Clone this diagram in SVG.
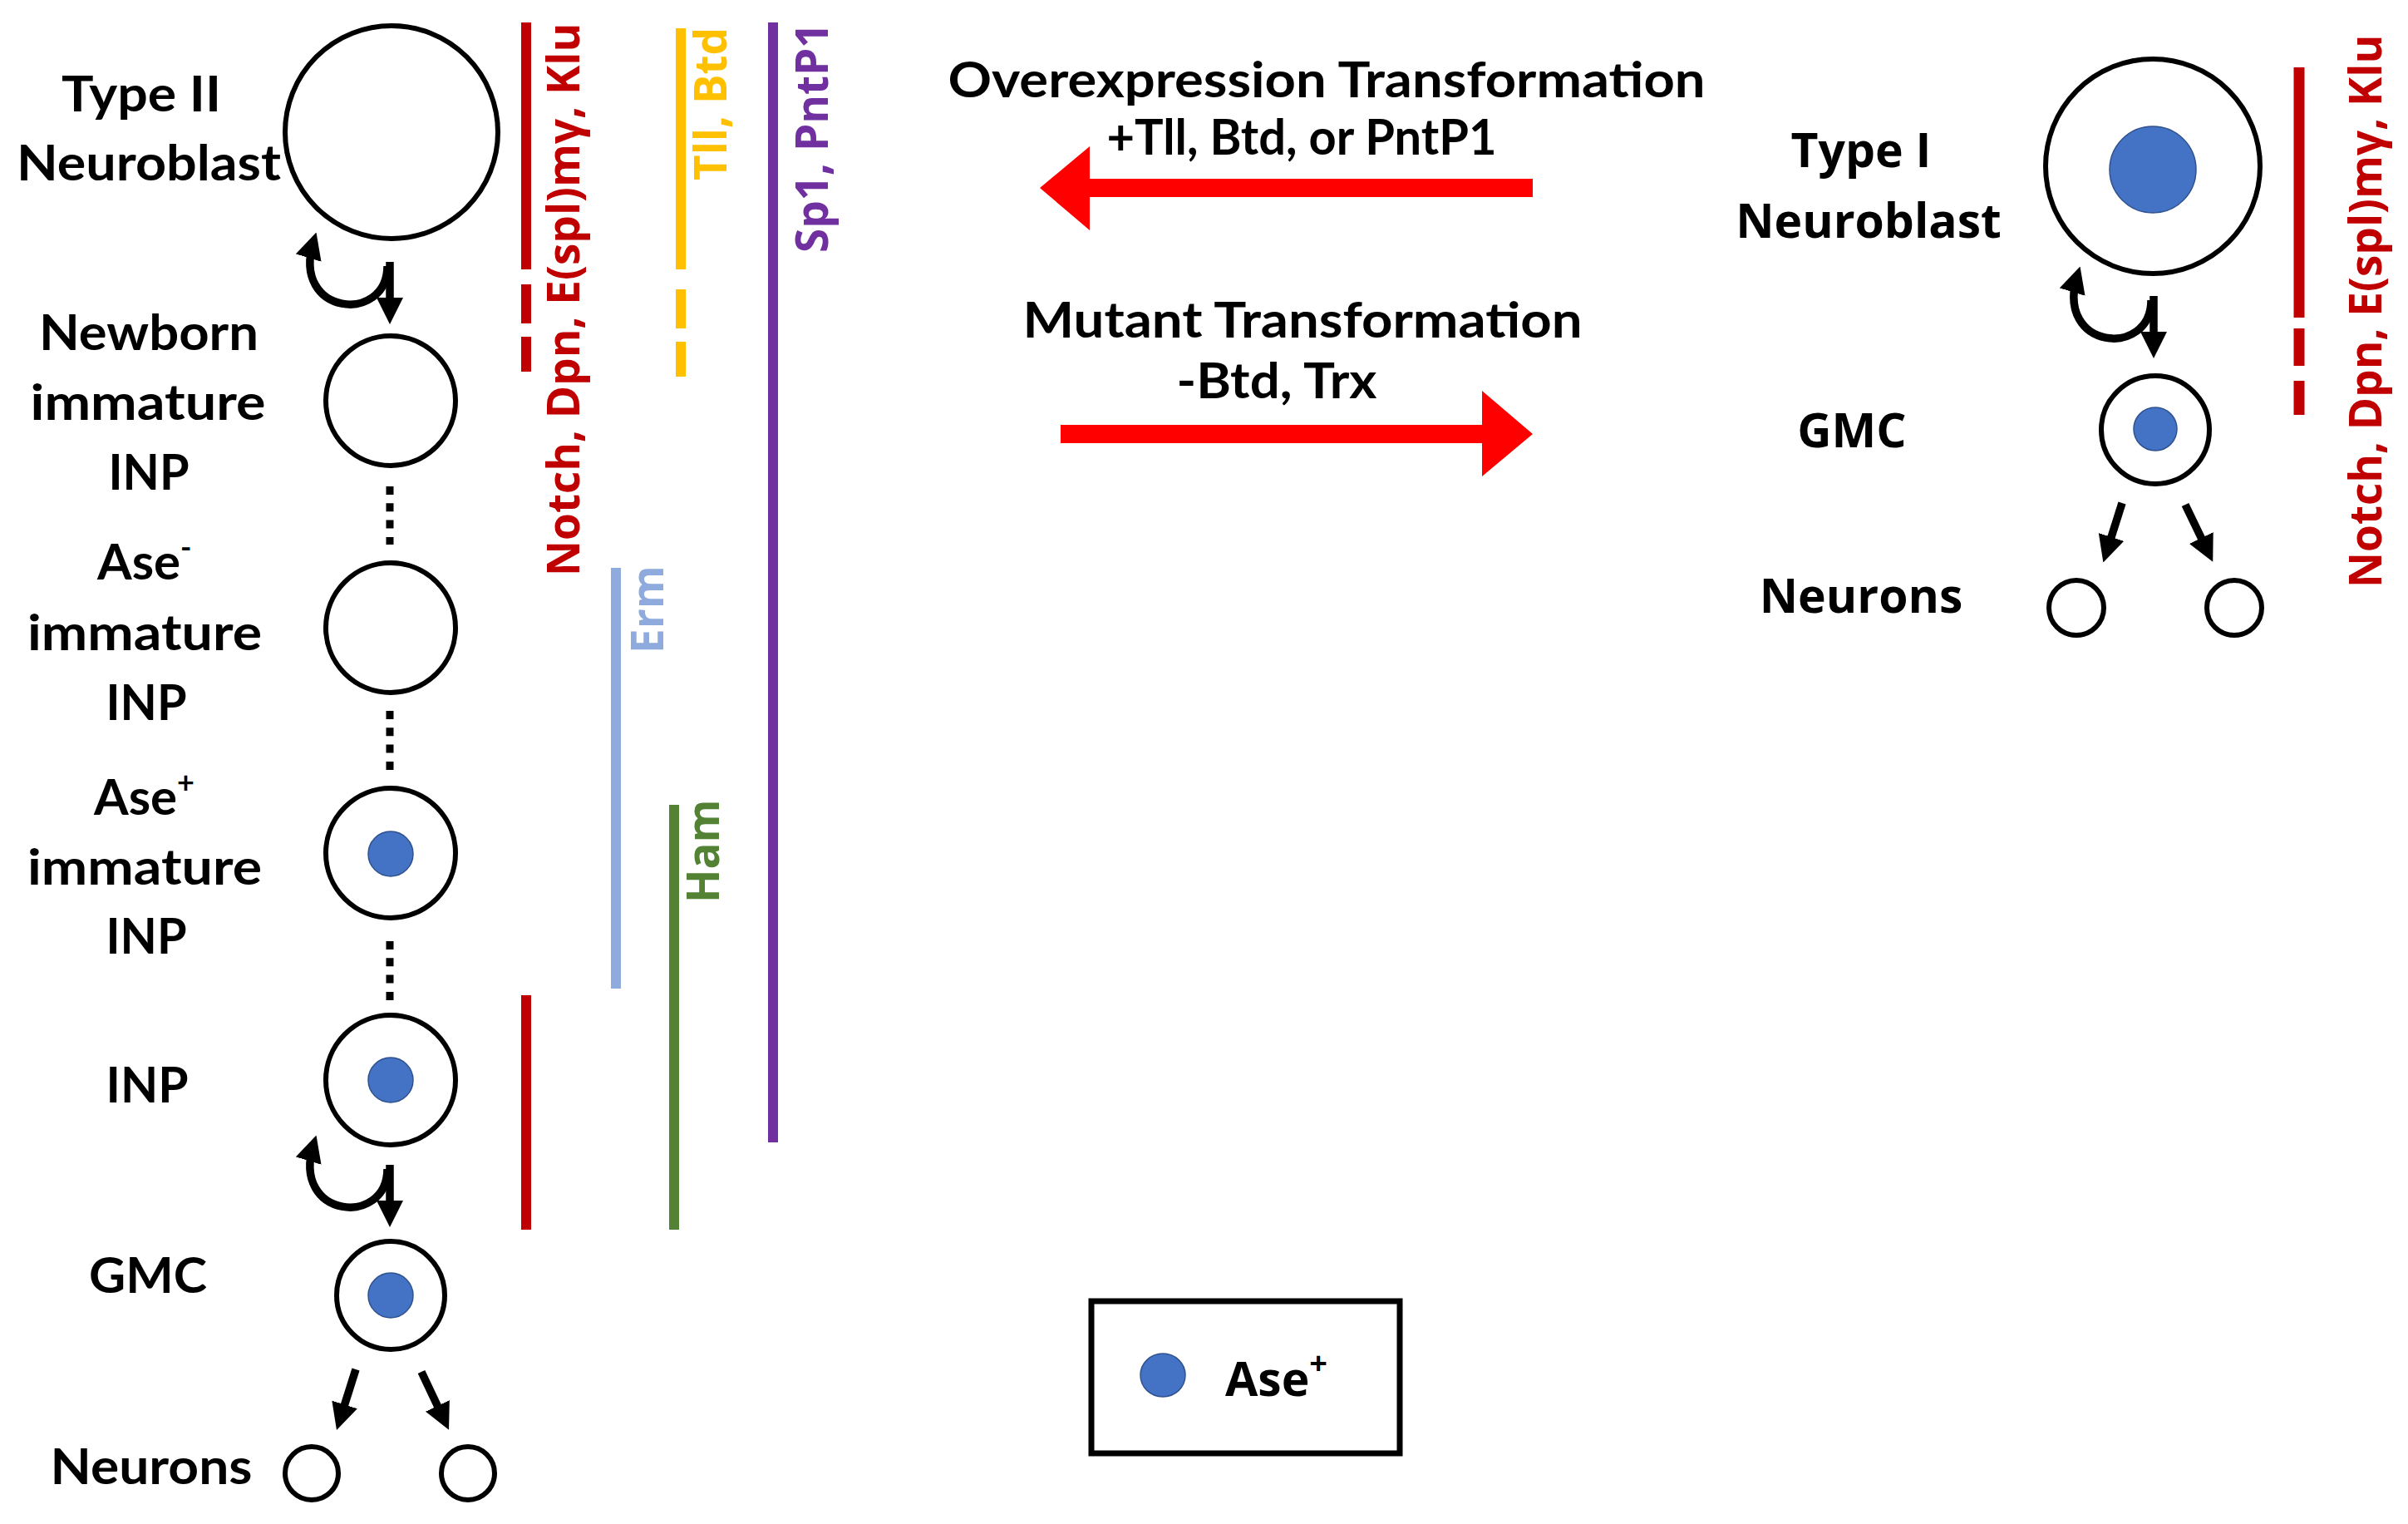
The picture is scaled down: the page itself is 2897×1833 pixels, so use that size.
<svg xmlns="http://www.w3.org/2000/svg" width="2897" height="1833" viewBox="0 0 2897 1833">
<defs>
<style>
.cell{fill:#fff;stroke:#000;stroke-width:6}
.nuc{fill:#4472C4;stroke:#2F528F;stroke-width:1.5}
.lab{font-family:Lato,"Liberation Sans",sans-serif;font-weight:700;font-size:60px;fill:#000}
.labR{font-family:"Open Sans","Liberation Sans",sans-serif;font-weight:700;font-size:57px;fill:#000}
.rot{font-family:"Open Sans","Liberation Sans",sans-serif;font-weight:700;font-size:53px}
.arr{fill:none;stroke:#000;stroke-width:9.5;marker-end:url(#ah)}
.dot{fill:none;stroke:#000;stroke-width:9;stroke-dasharray:10 10.3}
.bar{stroke-width:12;fill:none}
</style>
<marker id="ah" markerUnits="userSpaceOnUse" markerWidth="32" markerHeight="32" viewBox="0 0 32 32" refX="20" refY="16" orient="auto">
<path d="M0,0 L32,16 L0,32 z" fill="#000"/>
</marker>
</defs>
<rect width="2897" height="1833" fill="#fff"/>

<g id="connectors">
<path class="dot" d="M469 585 V655"/>
<path class="dot" d="M469 855 V928"/>
<path class="dot" d="M469 1132 V1205"/>
<path class="arr" d="M469 315 V378"/>
<path class="arr" d="M466 320 C466 390 350 380 377 291"/>
<path class="arr" d="M469 1401 V1464"/>
<path class="arr" d="M466 1406 C466 1476 350 1466 377 1377"/>
<path class="arr" d="M428 1647 L408.6 1708.5"/>
<path class="arr" d="M507 1650 L534.9 1709"/>
<path class="arr" d="M2591 356 V419"/>
<path class="arr" d="M2588 361 C2588 431 2472 421 2499 332"/>
<path class="arr" d="M2553 605 L2534 665"/>
<path class="arr" d="M2629 607 L2657 665"/>
<polygon id="arrow-overexpression" fill="#FF0000" points="1844,215 1311,215 1311,176 1251,226 1311,277 1311,237 1844,237"/>
<polygon id="arrow-mutant" fill="#FF0000" points="1276,511 1783,511 1783,470 1844,522 1783,573 1783,533 1276,533"/>
</g>

<g id="type2-neuroblast">
<circle class="cell" cx="471" cy="159" r="128"/>
<text class="lab" x="170" y="134" text-anchor="middle" textLength="192" lengthAdjust="spacingAndGlyphs">Type II</text>
<text class="lab" x="179" y="217" text-anchor="middle" textLength="318" lengthAdjust="spacingAndGlyphs">Neuroblast</text>
</g>
<g id="newborn-inp">
<circle class="cell" cx="470" cy="482" r="78"/>
<text class="lab" x="179" y="421" text-anchor="middle" textLength="264" lengthAdjust="spacingAndGlyphs">Newborn</text>
<text class="lab" x="178" y="505" text-anchor="middle" textLength="283" lengthAdjust="spacingAndGlyphs">immature</text>
<text class="lab" x="179" y="589" text-anchor="middle" textLength="97" lengthAdjust="spacingAndGlyphs">INP</text>
</g>
<g id="ase-minus-inp">
<circle class="cell" cx="470" cy="755" r="78"/>
<text class="lab" x="117" y="697">Ase<tspan font-size="36" dy="-26">-</tspan></text>
<text class="lab" x="174" y="782" text-anchor="middle" textLength="282" lengthAdjust="spacingAndGlyphs">immature</text>
<text class="lab" x="176" y="866" text-anchor="middle" textLength="97" lengthAdjust="spacingAndGlyphs">INP</text>
</g>
<g id="ase-plus-inp">
<circle class="cell" cx="470" cy="1026" r="78"/>
<ellipse class="nuc" cx="470" cy="1027" rx="27" ry="27"/>
<text class="lab" x="113" y="980">Ase<tspan font-size="36" dy="-26">+</tspan></text>
<text class="lab" x="174" y="1064" text-anchor="middle" textLength="282" lengthAdjust="spacingAndGlyphs">immature</text>
<text class="lab" x="176" y="1147" text-anchor="middle" textLength="97" lengthAdjust="spacingAndGlyphs">INP</text>
</g>
<g id="inp">
<circle class="cell" cx="470" cy="1299" r="78"/>
<circle class="nuc" cx="470" cy="1299" r="27"/>
<text class="lab" x="177" y="1326" text-anchor="middle" textLength="99" lengthAdjust="spacingAndGlyphs">INP</text>
</g>
<g id="gmc-left">
<circle class="cell" cx="470" cy="1558" r="65"/>
<circle class="nuc" cx="470" cy="1558" r="27"/>
<text class="lab" x="178" y="1555" text-anchor="middle" textLength="142" lengthAdjust="spacingAndGlyphs">GMC</text>
</g>
<g id="neurons-left">
<circle class="cell" cx="375" cy="1772" r="32"/>
<circle class="cell" cx="563" cy="1772" r="32"/>
<text class="lab" x="182" y="1785" text-anchor="middle" textLength="243" lengthAdjust="spacingAndGlyphs">Neurons</text>
</g>

<g id="marker-bars">
<path class="bar" stroke="#C00000" d="M633 27 V324 M633 342 V389 M633 405 V447 M633 1197 V1479"/>
<text class="rot" fill="#C00000" transform="translate(697,693) rotate(-90)">Notch, Dpn, E(spl)mγ, Klu</text>
<path class="bar" stroke="#8FAADC" d="M741 683 V1189"/>
<text class="rot" fill="#8FAADC" transform="translate(798,786) rotate(-90)">Erm</text>
<path class="bar" stroke="#548235" d="M811 968 V1479"/>
<text class="rot" fill="#548235" transform="translate(865,1086) rotate(-90)">Ham</text>
<path class="bar" stroke="#FFC000" d="M819 34 V324 M819 348 V395 M819 411 V453"/>
<text class="rot" fill="#FFC000" transform="translate(874,217) rotate(-90)">Tll, Btd</text>
<path class="bar" stroke="#7030A0" d="M930 27 V1374"/>
<text class="rot" fill="#7030A0" transform="translate(996,304) rotate(-90)">Sp1, PntP1</text>
</g>

<g id="transformation-labels">
<text class="lab" x="1596" y="117" text-anchor="middle" textLength="911" lengthAdjust="spacingAndGlyphs">Overexpression Transformation</text>
<text class="lab" x="1566" y="186" text-anchor="middle" textLength="469" lengthAdjust="spacingAndGlyphs">+Tll, Btd, or PntP1</text>
<text class="lab" x="1567" y="406" text-anchor="middle" textLength="673" lengthAdjust="spacingAndGlyphs">Mutant Transformation</text>
<text class="lab" x="1536" y="479" text-anchor="middle" textLength="241" lengthAdjust="spacingAndGlyphs">-Btd, Trx</text>
</g>

<g id="type1-neuroblast">
<circle class="cell" cx="2590" cy="200" r="129"/>
<circle class="nuc" cx="2590" cy="204" r="52"/>
<text class="labR" x="2239" y="201" text-anchor="middle">Type I</text>
<text class="labR" x="2248" y="286" text-anchor="middle">Neuroblast</text>
</g>
<g id="gmc-right">
<circle class="cell" cx="2593" cy="517" r="65"/>
<circle class="nuc" cx="2593" cy="516" r="26"/>
<text class="labR" x="2228" y="538" text-anchor="middle">GMC</text>
</g>
<g id="neurons-right">
<circle class="cell" cx="2498" cy="731" r="33"/>
<circle class="cell" cx="2688" cy="731" r="33"/>
<text class="labR" x="2239" y="737" text-anchor="middle">Neurons</text>
</g>
<g id="type1-markers">
<path stroke="#C00000" stroke-width="13" fill="none" d="M2766 81 V382 M2766 395 V440 M2766 458 V499"/>
<text class="rot" fill="#C00000" transform="translate(2865,707) rotate(-90)">Notch, Dpn, E(spl)mγ, Klu</text>
</g>

<g id="legend">
<rect x="1313" y="1565" width="371" height="183" fill="#fff" stroke="#000" stroke-width="7"/>
<ellipse class="nuc" cx="1399" cy="1654" rx="27" ry="26"/>
<text class="labR" x="1474" y="1679">Ase<tspan font-size="38" dy="-26">+</tspan></text>
</g>
</svg>
